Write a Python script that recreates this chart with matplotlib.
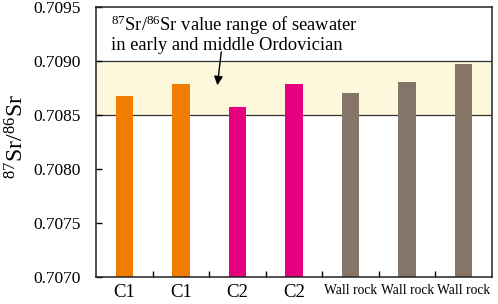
import matplotlib
matplotlib.use("Agg")
import matplotlib.pyplot as plt
import numpy as np

plt.rcParams['font.family'] = 'Liberation Serif'
plt.rcParams['mathtext.fontset'] = 'custom'
plt.rcParams['mathtext.rm'] = 'Liberation Serif'

# data
samples = ["C1", "C1", "C2", "C2", "Wall rock", "Wall rock", "Wall rock"]
sr_ratio = [0.70868, 0.70879, 0.70857, 0.70879, 0.70870, 0.70881, 0.70897]
bar_colors = ["#F07D00", "#F07D00", "#E4007F", "#E4007F", "#857468", "#857468", "#857468"]
sea_low, sea_high = 0.7085, 0.7090
y_ticks = [0.7070, 0.7075, 0.7080, 0.7085, 0.7090, 0.7095]

fig = plt.figure(figsize=(4.98, 3.04), dpi=100)
ax = fig.add_axes([96 / 498, 1 - 277 / 304, 396 / 498, 270 / 304])

x = np.arange(len(samples))
base = y_ticks[0]
ax.axhspan(sea_low, sea_high, color="#FDF8DC", zorder=0)
ax.axhline(sea_low, color="#333333", lw=0.9, zorder=1)
ax.axhline(sea_high, color="#333333", lw=0.9, zorder=1)
ax.bar(x, np.array(sr_ratio) - base, bottom=base, width=0.31, color=bar_colors, zorder=2)

ax.set_xlim(-0.5, len(samples) - 0.5)
ax.set_ylim(y_ticks[0], y_ticks[-1])
ax.set_yticks(y_ticks)
ax.set_yticklabels([f"{v:.4f}" for v in y_ticks], fontsize=12.5)
ax.set_xticks(x)
ax.set_xticklabels(samples)
for lbl, s in zip(ax.get_xticklabels(), samples):
    lbl.set_fontsize(9.8 if s == "Wall rock" else 13.5)
ax.tick_params(axis="x", length=0, pad=5)
ax.set_xticks(np.arange(0.5, len(samples) - 0.5, 1), minor=True)
ax.tick_params(axis="x", which="minor", direction="in", length=4, width=1)
ax.tick_params(axis="y", direction="in", length=4, width=1, pad=11)
for sp in ax.spines.values():
    sp.set_linewidth(1.1)
    sp.set_color("#222222")

ax.set_ylabel(r"$\mathregular{^{87}}$Sr/$\mathregular{^{86}}$Sr", fontsize=17)
ax.yaxis.set_label_coords(-0.17, 0.52)

ax.text(-0.24, 0.70925, r"$\mathregular{^{87}}$Sr/$\mathregular{^{86}}$Sr value range of seawater" + "\nin early and middle Ordovician",
        fontsize=13.3, ha="left", va="center", linespacing=1.0)
ax.annotate("", xy=(1.64, 0.70875), xytext=(1.72, 0.70911),
            arrowprops=dict(arrowstyle="-|>", color="black", lw=1, mutation_scale=13))

fig.savefig("out.png", dpi=100)
